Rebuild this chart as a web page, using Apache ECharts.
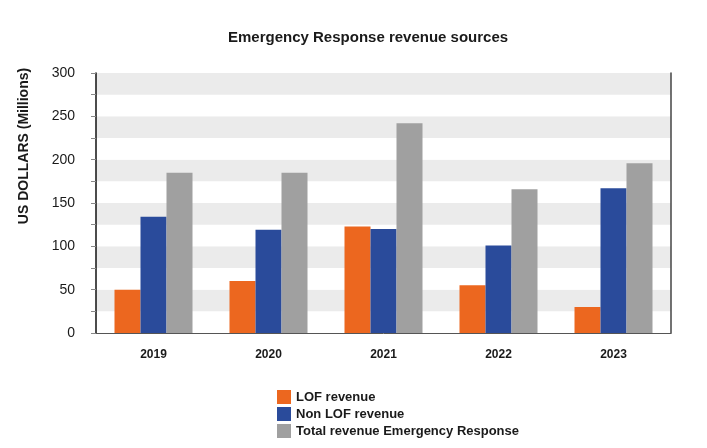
<!DOCTYPE html>
<html>
<head>
<meta charset="utf-8">
<script src="https://cdn.jsdelivr.net/npm/echarts@6/dist/echarts.min.js"></script>
<style>
	html, body { margin: 0; padding: 0; background: #fff; }
	#chart { width: 707px; height: 448px; }
</style>
</head>
<body>
<div id="chart"></div>
<script>
// ---------- DATA ----------
var years = ['2019', '2020', '2021', '2022', '2023'];
var lofRevenue = [50, 60, 123, 55, 30];
var nonLofRevenue = [134, 119, 120, 101, 167];
var totalRevenue = [185, 185, 242, 166, 196];

var chart = echarts.init(document.getElementById('chart'));

let options = {
	animation: false,
	title: {
		text: 'Emergency Response revenue sources',
		left: 223,
		top: 25,
		textStyle: {
			fontFamily: 'Liberation Sans',
			fontSize: 15,
			fontWeight: 'bold',
			color: '#1a1a1a'
		}
	},
	// y axis name sits high on the left, not centred on the axis
	graphic: [
		{
			type: 'text',
			x: 24,
			y: 146,
			rotation: Math.PI / 2,
			style: {
				text: 'US DOLLARS (Millions)',
				fontFamily: 'Liberation Sans',
				fontSize: 14,
				fontWeight: 'bold',
				fill: '#1a1a1a',
				align: 'center',
				verticalAlign: 'middle'
			}
		}
	],
	grid: {
		left: 96,
		right: 36,
		top: 73,
		bottom: 115
	},
	legend: {
		orient: 'vertical',
		left: 272,
		top: 385,
		itemWidth: 14,
		itemHeight: 14,
		itemGap: 3,
		icon: 'rect',
		textStyle: {
			fontFamily: 'Liberation Sans',
			fontSize: 13,
			fontWeight: 'bold',
			color: '#1a1a1a'
		}
	},
	xAxis: {
		type: 'category',
		data: years,
		axisLine: { lineStyle: { color: '#555' } },
		axisTick: { show: false },
		axisLabel: {
			margin: 16,
			fontFamily: 'Liberation Sans',
			fontSize: 12,
			fontWeight: 'bold',
			color: '#1a1a1a'
		}
	},
	yAxis: [
		{
			type: 'value',
			min: 0,
			max: 300,
			interval: 25,
			axisLine: { show: true, lineStyle: { color: '#111', width: 1.5 } },
			axisTick: { show: true, length: 5, lineStyle: { color: '#888' } },
			axisLabel: {
				margin: 21,
				fontFamily: 'Liberation Sans',
				fontSize: 14,
				color: '#1a1a1a',
				formatter: function (v) { return v % 50 === 0 ? v : ''; }
			},
			splitLine: { show: false },
			splitArea: {
				show: true,
				areaStyle: { color: ['#ffffff', '#ebebeb'] }
			}
		},
		{
			type: 'value',
			min: 0,
			max: 300,
			position: 'right',
			axisLine: { show: true, lineStyle: { color: '#444', width: 1.5 } },
			axisTick: { show: false },
			axisLabel: { show: false },
			splitLine: { show: false }
		}
	],
	series: [
		{
			name: 'LOF revenue',
			type: 'bar',
			barWidth: 26,
			barGap: '0%',
			itemStyle: { color: '#ec671f' },
			data: lofRevenue
		},
		{
			name: 'Non LOF revenue',
			type: 'bar',
			barWidth: 26,
			barGap: '0%',
			itemStyle: { color: '#2a4b9b' },
			data: nonLofRevenue
		},
		{
			name: 'Total revenue Emergency Response',
			type: 'bar',
			barWidth: 26,
			barGap: '0%',
			itemStyle: { color: '#a0a0a0' },
			data: totalRevenue
		}
	]
};

chart.setOption(options);
</script>
</body>
</html>
